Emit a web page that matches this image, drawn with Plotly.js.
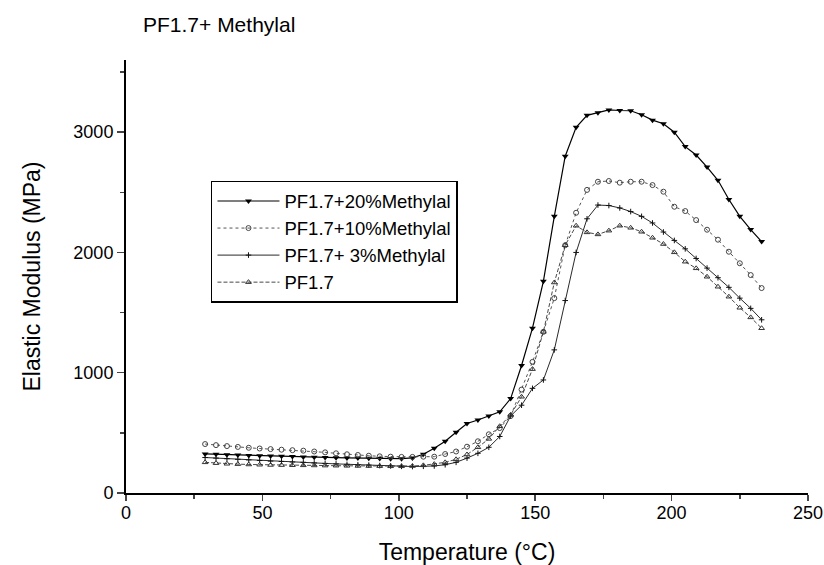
<!DOCTYPE html>
<html>
<head>
<meta charset="utf-8">
<script src="https://cdn.plot.ly/plotly-3.0.1.min.js"></script>
<style>html,body{margin:0;padding:0;background:#fff;}#chart{width:824px;height:565px;}</style>
</head>
<body>
<div id="chart"></div>
<script>
// Temperature (°C)
const temperature = [29,33,37,41,45,49,53,57,61,65,69,73,77,81,85,89,93,97,101,105,109,113,117,121,125,129,133,137,141,145,149,153,157,161,165,169,173,177,181,185,189,193,197,201,205,209,213,217,221,225,229,233];

// Elastic modulus (MPa)
const pf20 = [325,322,318,315,312,310,307,305,303,300,298,296,294,292,290,288,286,284,285,292,322,372,430,505,578,607,640,675,785,1060,1370,1760,2300,2800,3040,3140,3162,3185,3180,3178,3145,3100,3070,3000,2880,2810,2710,2600,2440,2300,2190,2090];
const pf10 = [407,398,390,383,376,370,365,360,356,352,345,338,330,322,316,310,305,302,300,300,302,302,324,345,385,430,488,540,640,860,1090,1340,1620,2060,2330,2520,2588,2594,2580,2588,2588,2560,2505,2380,2344,2269,2189,2106,2006,1910,1812,1704];
const pf3 = [295,290,285,280,275,270,265,262,258,255,250,246,242,238,235,232,228,225,222,220,222,225,235,255,290,330,380,470,640,730,870,940,1190,1600,2000,2280,2394,2390,2370,2340,2300,2245,2170,2100,2030,1950,1870,1790,1710,1620,1535,1440];
const pf0 = [255,248,243,240,237,235,233,232,231,230,229,228,227,226,225,224,223,222,222,224,230,240,255,280,320,380,450,555,650,800,1030,1340,1750,2060,2222,2167,2150,2181,2222,2205,2172,2122,2070,2001,1923,1868,1798,1715,1632,1540,1460,1370];

const seriesNames = ["PF1.7+20%Methylal","PF1.7+10%Methylal","PF1.7+ 3%Methylal","PF1.7"];
const xTicks = [0,50,100,150,200,250];
const yTicks = [0,1000,2000,3000];

const traces = [
  {x: temperature, y: pf20, name: seriesNames[0], mode: 'lines+markers',
   line: {color: '#000', width: 1.2},
   marker: {symbol: 'triangle-down', size: 6, color: '#000'}},
  {x: temperature, y: pf10, name: seriesNames[1], mode: 'lines+markers',
   line: {color: '#555', width: 1, dash: 'dot'},
   marker: {symbol: 'circle-open', size: 5, color: '#444', line: {width: 1}}},
  {x: temperature, y: pf3, name: seriesNames[2], mode: 'lines+markers',
   line: {color: '#111', width: 0.9},
   marker: {symbol: 'cross-thin-open', size: 4, color: '#111', line: {width: 1}}},
  {x: temperature, y: pf0, name: seriesNames[3], mode: 'lines+markers',
   line: {color: '#333', width: 0.9, dash: '4px,2px'},
   marker: {symbol: 'triangle-up-open', size: 5, color: '#333', line: {width: 1}}}
];

const font = {family: 'Liberation Sans, Arial, sans-serif', color: '#000'};

const layout = {
  width: 824, height: 565,
  margin: {l: 126, r: 16, t: 60, b: 72},
  paper_bgcolor: '#fff', plot_bgcolor: '#fff',
  font: Object.assign({size: 18}, font),
  title: {text: 'PF1.7+ Methylal', x: 143/824, xanchor: 'left', y: 1 - 25/565, yanchor: 'middle',
          font: Object.assign({}, font, {size: 21})},
  showlegend: true,
  legend: {x: 0.1246, y: 0.7206, xanchor: 'left', yanchor: 'top',
           bordercolor: '#000', borderwidth: 1.5, bgcolor: '#fff',
           font: Object.assign({}, font, {size: 18.5}), tracegroupgap: 0, itemwidth: 62},
  xaxis: {range: [0, 250], tickvals: xTicks, ticks: 'outside', ticklen: 6, tickwidth: 1.5,
          ticklabelstandoff: -4,
          showline: true, linecolor: '#000', linewidth: 2, showgrid: false, zeroline: false,
          minor: {dtick: 25, ticks: 'outside', ticklen: 4, tickwidth: 1.5, showgrid: false},
          tickfont: Object.assign({}, font, {size: 18}),
          title: {text: 'Temperature (°C)', standoff: 22, font: Object.assign({}, font, {size: 23})}},
  yaxis: {range: [0, 3600], tickvals: yTicks, ticks: 'outside', ticklen: 7, tickwidth: 1.5,
          showline: true, linecolor: '#000', linewidth: 2, showgrid: false, zeroline: false,
          minor: {dtick: 500, ticks: 'outside', ticklen: 4, tickwidth: 1.5, showgrid: false},
          tickfont: Object.assign({}, font, {size: 18}),
          title: {text: 'Elastic Modulus (MPa)', standoff: 26, font: Object.assign({}, font, {size: 23})}}
};

Plotly.newPlot('chart', traces, layout, {displayModeBar: false, staticPlot: true});
</script>
</body>
</html>
